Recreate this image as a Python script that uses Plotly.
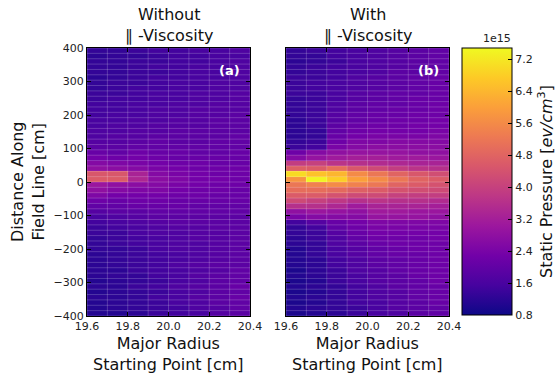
import plotly.graph_objects as go

# ---- data (units of 1e15 eV/cm^3) ----
x_edges = [19.6, 19.7, 19.8, 19.9, 20.0, 20.1, 20.2, 20.3, 20.4]
y_edges = list(range(400, -401, -16))  # 50 rows of 16 cm, top to bottom

# rows listed top (z=+392) to bottom (z=-392), 8 columns 19.6 -> 20.4
pressure_without = [
    [1.3, 1.3, 1.4, 1.5, 1.5, 1.6, 1.6, 1.7],
    [1.2, 1.3, 1.3, 1.4, 1.5, 1.5, 1.6, 1.6],
    [1.3, 1.3, 1.4, 1.4, 1.5, 1.5, 1.6, 1.7],
    [1.3, 1.3, 1.4, 1.5, 1.5, 1.6, 1.6, 1.7],
    [1.3, 1.3, 1.4, 1.4, 1.5, 1.6, 1.6, 1.7],
    [1.2, 1.3, 1.4, 1.5, 1.5, 1.6, 1.6, 1.7],
    [1.3, 1.4, 1.4, 1.5, 1.6, 1.6, 1.7, 1.7],
    [1.3, 1.4, 1.5, 1.5, 1.6, 1.6, 1.7, 1.7],
    [1.4, 1.4, 1.5, 1.6, 1.6, 1.7, 1.7, 1.8],
    [1.4, 1.5, 1.5, 1.6, 1.6, 1.7, 1.7, 1.8],
    [1.5, 1.5, 1.6, 1.6, 1.7, 1.7, 1.8, 1.8],
    [1.5, 1.5, 1.6, 1.7, 1.7, 1.8, 1.8, 1.8],
    [1.5, 1.6, 1.6, 1.7, 1.7, 1.8, 1.8, 1.9],
    [1.6, 1.6, 1.7, 1.7, 1.8, 1.8, 1.9, 1.9],
    [1.6, 1.7, 1.7, 1.8, 1.8, 1.8, 1.9, 1.9],
    [1.7, 1.7, 1.8, 1.8, 1.9, 1.9, 1.9, 1.9],
    [1.7, 1.8, 1.8, 1.9, 1.9, 1.9, 1.9, 2.0],
    [1.8, 1.8, 1.9, 2.0, 1.9, 1.9, 2.0, 2.0],
    [1.9, 1.9, 2.0, 2.0, 2.0, 2.0, 2.0, 2.0],
    [2.1, 2.0, 2.2, 2.1, 2.1, 2.0, 2.0, 2.1],
    [2.3, 2.2, 2.3, 2.2, 2.1, 2.1, 2.1, 2.1],
    [2.6, 2.5, 2.4, 2.3, 2.2, 2.2, 2.1, 2.1],
    [2.8, 2.7, 2.6, 2.4, 2.3, 2.2, 2.2, 2.2],
    [4.5, 4.5, 3.3, 2.6, 2.4, 2.3, 2.2, 2.2],
    [4.6, 4.6, 3.4, 2.7, 2.5, 2.3, 2.3, 2.2],
    [3.0, 2.8, 2.7, 2.6, 2.4, 2.3, 2.2, 2.2],
    [2.8, 2.6, 2.5, 2.5, 2.3, 2.2, 2.2, 2.1],
    [2.5, 2.3, 2.3, 2.3, 2.2, 2.2, 2.1, 2.1],
    [2.2, 2.1, 2.2, 2.2, 2.1, 2.1, 2.1, 2.1],
    [2.0, 2.0, 2.1, 2.1, 2.1, 2.0, 2.0, 2.0],
    [1.8, 1.9, 1.9, 2.0, 2.0, 2.0, 2.0, 2.0],
    [1.6, 1.7, 1.8, 1.9, 1.9, 1.9, 1.9, 1.9],
    [1.5, 1.6, 1.7, 1.8, 1.9, 1.9, 1.9, 1.9],
    [1.4, 1.5, 1.6, 1.7, 1.8, 1.8, 1.9, 1.9],
    [1.4, 1.4, 1.6, 1.7, 1.7, 1.8, 1.8, 1.9],
    [1.3, 1.4, 1.5, 1.6, 1.7, 1.8, 1.8, 1.9],
    [1.3, 1.4, 1.5, 1.6, 1.7, 1.7, 1.8, 1.9],
    [1.3, 1.3, 1.4, 1.6, 1.7, 1.7, 1.8, 1.9],
    [1.2, 1.3, 1.4, 1.5, 1.6, 1.7, 1.8, 1.9],
    [1.2, 1.3, 1.4, 1.5, 1.6, 1.7, 1.8, 1.9],
    [1.2, 1.3, 1.4, 1.5, 1.7, 1.8, 1.9, 1.9],
    [1.2, 1.2, 1.4, 1.5, 1.6, 1.7, 1.8, 2.0],
    [1.2, 1.3, 1.3, 1.5, 1.6, 1.8, 1.9, 2.0],
    [1.1, 1.2, 1.3, 1.4, 1.6, 1.7, 1.9, 2.0],
    [1.2, 1.2, 1.4, 1.5, 1.7, 1.8, 1.9, 2.1],
    [1.1, 1.2, 1.3, 1.4, 1.6, 1.7, 1.9, 2.0],
    [1.2, 1.2, 1.3, 1.5, 1.6, 1.8, 1.9, 2.1],
    [1.1, 1.2, 1.3, 1.4, 1.6, 1.7, 1.9, 2.0],
    [1.1, 1.2, 1.3, 1.4, 1.5, 1.7, 1.8, 2.0],
    [1.1, 1.1, 1.2, 1.4, 1.5, 1.6, 1.8, 1.9],
]

pressure_with = [
    [1.3, 1.4, 1.5, 1.6, 1.7, 1.8, 1.9, 2.0],
    [1.3, 1.3, 1.5, 1.6, 1.7, 1.8, 1.9, 2.0],
    [1.2, 1.3, 1.4, 1.6, 1.7, 1.8, 1.9, 2.0],
    [1.3, 1.4, 1.5, 1.6, 1.7, 1.8, 1.9, 2.0],
    [1.3, 1.4, 1.5, 1.6, 1.7, 1.9, 1.9, 2.0],
    [1.4, 1.4, 1.5, 1.7, 1.8, 1.9, 2.0, 2.1],
    [1.4, 1.5, 1.6, 1.7, 1.8, 1.9, 2.0, 2.1],
    [1.4, 1.5, 1.6, 1.7, 1.8, 1.9, 2.0, 2.1],
    [1.4, 1.4, 1.6, 1.8, 1.9, 2.0, 2.0, 2.1],
    [1.3, 1.4, 1.6, 1.8, 1.9, 2.0, 2.1, 2.1],
    [1.3, 1.4, 1.7, 1.9, 2.0, 2.0, 2.1, 2.2],
    [1.3, 1.4, 1.7, 1.9, 2.0, 2.1, 2.1, 2.2],
    [1.3, 1.4, 1.8, 2.0, 2.1, 2.1, 2.2, 2.2],
    [1.2, 1.4, 1.8, 2.0, 2.1, 2.2, 2.2, 2.3],
    [1.2, 1.4, 1.9, 2.1, 2.2, 2.2, 2.3, 2.3],
    [1.2, 1.3, 2.0, 2.2, 2.3, 2.3, 2.3, 2.4],
    [1.2, 1.3, 2.1, 2.3, 2.4, 2.4, 2.4, 2.5],
    [1.3, 1.4, 2.2, 2.5, 2.5, 2.6, 2.6, 2.6],
    [1.4, 1.5, 2.4, 2.6, 2.7, 2.7, 2.7, 2.7],
    [2.2, 2.6, 2.8, 2.9, 2.9, 2.9, 2.8, 2.8],
    [2.6, 2.9, 3.1, 3.2, 3.2, 3.1, 3.1, 3.0],
    [3.9, 4.0, 3.7, 3.6, 3.5, 3.4, 3.3, 3.3],
    [4.7, 4.6, 5.0, 4.5, 4.2, 3.9, 3.7, 3.6],
    [7.0, 6.6, 6.4, 5.6, 5.2, 4.8, 4.5, 4.3],
    [5.8, 7.4, 6.8, 6.0, 5.6, 5.2, 4.8, 4.6],
    [5.2, 5.4, 5.6, 5.4, 5.2, 4.8, 4.6, 4.4],
    [5.0, 5.0, 4.9, 4.7, 4.6, 4.4, 4.3, 4.2],
    [4.6, 4.6, 4.4, 4.2, 4.2, 4.0, 3.9, 3.9],
    [4.2, 4.0, 3.8, 3.6, 3.7, 3.6, 3.6, 3.5],
    [3.6, 3.6, 3.4, 3.1, 3.3, 3.3, 3.3, 3.2],
    [2.8, 3.0, 2.9, 2.8, 3.1, 3.1, 3.0, 3.0],
    [2.4, 2.6, 2.6, 2.6, 2.9, 2.9, 2.9, 2.8],
    [1.5, 1.8, 2.1, 2.3, 2.5, 2.5, 2.5, 2.5],
    [1.3, 1.5, 2.0, 2.2, 2.4, 2.4, 2.4, 2.4],
    [1.3, 1.4, 1.8, 2.1, 2.3, 2.3, 2.3, 2.3],
    [1.2, 1.4, 1.7, 2.0, 2.2, 2.2, 2.2, 2.3],
    [1.2, 1.3, 1.7, 1.9, 2.1, 2.2, 2.2, 2.2],
    [1.1, 1.3, 1.6, 1.8, 2.0, 2.1, 2.2, 2.2],
    [1.1, 1.3, 1.6, 1.8, 2.0, 2.1, 2.1, 2.2],
    [1.1, 1.2, 1.5, 1.7, 1.9, 2.0, 2.1, 2.2],
    [1.1, 1.2, 1.5, 1.7, 1.9, 2.0, 2.1, 2.2],
    [1.0, 1.2, 1.4, 1.7, 1.8, 2.0, 2.1, 2.2],
    [1.1, 1.2, 1.4, 1.6, 1.8, 1.9, 2.1, 2.2],
    [1.0, 1.1, 1.4, 1.6, 1.8, 1.9, 2.0, 2.2],
    [1.1, 1.2, 1.3, 1.5, 1.7, 1.9, 2.0, 2.1],
    [1.0, 1.1, 1.3, 1.5, 1.7, 1.8, 2.0, 2.1],
    [1.1, 1.2, 1.3, 1.5, 1.7, 1.8, 2.0, 2.1],
    [1.0, 1.1, 1.3, 1.5, 1.6, 1.8, 1.9, 2.1],
    [1.1, 1.2, 1.3, 1.4, 1.6, 1.8, 1.9, 2.0],
    [1.0, 1.1, 1.2, 1.4, 1.6, 1.7, 1.9, 2.0],
]

panel_titles = ["Without<br>\u2225 -Viscosity", "With<br>\u2225 -Viscosity"]
panel_tags = ["(a)", "(b)"]
x_title = "Major Radius<br>Starting Point [cm]"
y_title = "Distance Along<br>Field Line [cm]"
cbar_title = "Static Pressure [<i>ev/cm</i><sup>3</sup>]"
x_ticks = [19.6, 19.8, 20.0, 20.2, 20.4]
y_ticks = [400, 300, 200, 100, 0, -100, -200, -300, -400]
cbar_ticks = [0.8, 1.6, 2.4, 3.2, 4.0, 4.8, 5.6, 6.4, 7.2]
z_min, z_max = 0.8, 7.48

# ---- layout helpers ----
W, H = 559, 373
def fx(p): return p / W
def fy(p): return 1 - p / H

FONT = "DejaVu Sans"
dom_a = [fx(87), fx(250)]
dom_b = [fx(286), fx(449)]
dom_y = [fy(316), fy(48)]

fig = go.Figure()

def grid_lines(xe, ye):
    gx, gy = [], []
    for xv in xe:
        gx += [xv, xv, None]
        gy += [ye[0], ye[-1], None]
    for yv in ye:
        gx += [xe[0], xe[-1], None]
        gy += [yv, yv, None]
    return gx, gy

for i, (z, xa, ya) in enumerate([(pressure_without, "x", "y"), (pressure_with, "x2", "y2")]):
    fig.add_trace(go.Heatmap(
        x=x_edges, y=y_edges, z=z, xaxis=xa, yaxis=ya,
        colorscale="Plasma", zmin=z_min, zmax=z_max,
        showscale=(i == 1),
        colorbar=dict(
            x=fx(462), xanchor="left", y=fy(48), yanchor="top",
            thickness=50, thicknessmode="pixels",
            len=(315 - 48) / H, lenmode="fraction",
            xpad=0, ypad=0, outlinecolor="black", outlinewidth=1,
            tickvals=cbar_ticks, ticktext=[f"{v:.1f}" for v in cbar_ticks],
            ticks="inside", ticklen=4, tickcolor="black",
            tickfont=dict(family=FONT, size=11, color="#222"),
        ),
    ))
    gx, gy = grid_lines(x_edges, y_edges)
    fig.add_trace(go.Scatter(
        x=gx, y=gy, xaxis=xa, yaxis=ya, mode="lines",
        line=dict(color="rgba(255,255,255,0.2)", width=1),
        hoverinfo="skip", showlegend=False,
    ))

axis_common = dict(
    showline=True, linecolor="black", linewidth=1, mirror="ticks",
    ticks="inside", ticklen=4, tickcolor="black", showgrid=False, zeroline=False,
    automargin=False,
    tickfont=dict(family=FONT, size=11, color="#222"),
)
fig.update_layout(
    template="none",
    width=W, height=H, margin=dict(l=0, r=0, t=0, b=0, pad=0),
    paper_bgcolor="white", plot_bgcolor="white", showlegend=False,
    font=dict(family=FONT, color="#222"),
    xaxis=dict(domain=dom_a, range=[19.6, 20.4], tickvals=x_ticks,
               ticktext=[f"{v:.1f}" for v in x_ticks], anchor="y", **axis_common),
    yaxis=dict(domain=dom_y, range=[-400, 400], tickvals=y_ticks, anchor="x", **axis_common),
    xaxis2=dict(domain=dom_b, range=[19.6, 20.4], tickvals=x_ticks,
                ticktext=[f"{v:.1f}" for v in x_ticks], anchor="y2", **axis_common),
    yaxis2=dict(domain=dom_y, range=[-400, 400], tickvals=y_ticks, anchor="x2",
                showticklabels=False, **axis_common),
)

def txt(x, y, s, size=16, color="#111", angle=0, xanchor="center"):
    return dict(x=x, y=y, xref="paper", yref="paper", text=s, showarrow=False,
                xanchor=xanchor, yanchor="middle", textangle=angle, borderpad=0,
                font=dict(family=FONT, size=size, color=color))

annotations = []
for dom, title, tag in [(dom_a, panel_titles[0], panel_tags[0]), (dom_b, panel_titles[1], panel_tags[1])]:
    cx = (dom[0] + dom[1]) / 2
    annotations.append(txt(cx, fy(25), title))
    annotations.append(txt(cx, fy(353.5), x_title))
    annotations.append(txt(dom[1] - fx(9), fy(70), f"<b>{tag}</b>", size=13,
                           color="white", xanchor="right"))
annotations.append(txt(fx(28), fy(182), y_title, angle=-90))
annotations.append(txt(fx(545), fy(182), cbar_title, angle=-90))
annotations.append(dict(x=fx(513), y=fy(47), xref="paper", yref="paper", text="1e15",
                        showarrow=False, xanchor="right", yanchor="bottom",
                        font=dict(family=FONT, size=11, color="#222")))
fig.update_layout(annotations=annotations)

fig.write_html("out.html")
